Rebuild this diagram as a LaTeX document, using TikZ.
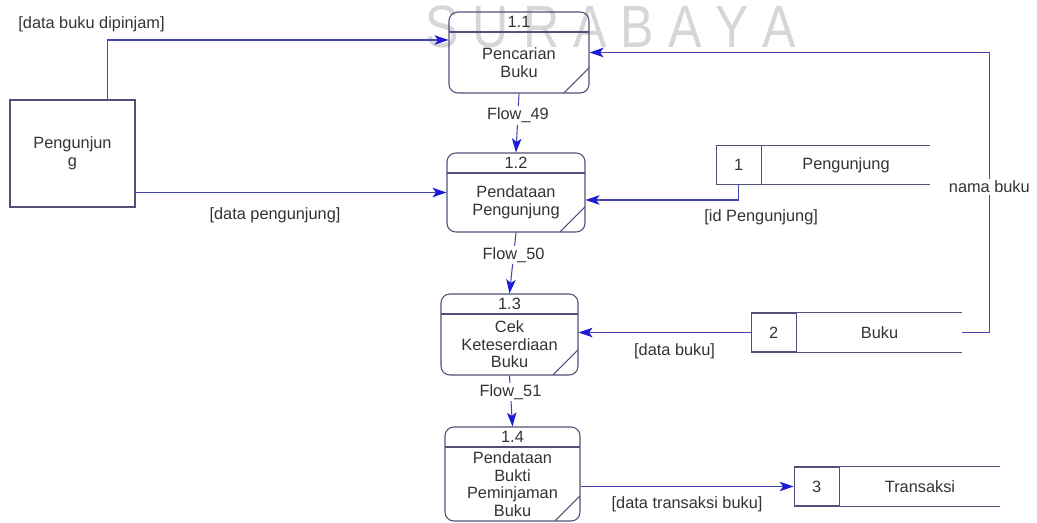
\documentclass[tikz,border=0pt]{standalone}
\usepackage{fontspec}
\setmainfont{Liberation Sans}
\usepackage{xcolor}
\usepackage{tikz}
\usetikzlibrary{positioning,arrows.meta,calc}

\definecolor{boxc}{HTML}{50507A}
\definecolor{linec}{HTML}{4646B0}
\definecolor{tipc}{HTML}{1C1CD8}
\definecolor{txtc}{HTML}{333333}

\begin{document}
\begin{tikzpicture}[x=0.02cm, y=-0.02cm, font=\fontsize{9.3}{10}\selectfont,
  >={Stealth[length=2.8mm,width=1.9mm,inset=0.7mm,color=tipc]},
  box/.style={draw=boxc, line width=0.6pt},
  conn/.style={draw=linec, line width=0.6pt, ->},
  ent/.style={box, minimum width=2.5cm, minimum height=2.14cm, align=center, text=txtc},
  proc/.style={box, rounded corners=5pt, path picture={
    \draw[box] ([yshift=-0.4cm]path picture bounding box.north west) -- ([yshift=-0.4cm]path picture bounding box.north east);
    \draw[box] ([xshift=-0.5cm]path picture bounding box.south east) -- ([yshift=0.5cm]path picture bounding box.south east);}},
  ptitle/.style={inner sep=1pt, text=txtc},
  ptext/.style={align=center, inner sep=1pt, text=txtc},
  sname/.style={minimum height=0.78cm, inner sep=0pt, text=txtc},
  snum/.style={box, minimum width=0.9cm, minimum height=0.78cm, inner sep=0pt, text=txtc},
  lbl/.style={fill=white, inner sep=1pt, text=txtc},
  wm/.style={font=\fontsize{34}{34}\selectfont, text=black!16, anchor=base, xscale=0.84, transform shape}]
\useasboundingbox (0,0) rectangle (1037,523);
% watermark behind everything
\node[wm] (wm) at (611,48) {S U R A B A Y A};
% external entity
\node[ent] (ent) at (72.5,153.5) {Pengunjun\\g};
% processes 1.1 -- 1.4
\foreach \i/\x/\y/\w/\h/\num/\txt in {
  1/519/52.5/2.8/1.62/1.1/{Pencarian\\Buku},
  2/516/192.5/2.76/1.58/1.2/{Pendataan\\Pengunjung},
  3/509.5/334.5/2.74/1.62/1.3/{Cek\\Keteserdiaan\\Buku},
  4/512.5/474/2.7/1.88/1.4/{Pendataan\\Bukti\\Peminjaman\\Buku}}{
  \node[proc, minimum width=\w cm, minimum height=\h cm] (p\i) at (\x,\y) {};
  \node[ptitle] (pn\i) at ([yshift=-0.2cm]p\i.north) {\num};
  \node[ptext] (pt\i) at ([yshift=-0.2cm]p\i.center) {\txt};
}
% data stores, open on the right
\foreach \i/\x/\y/\w/\num/\txt in {
  1/846/165/3.36/1/Pengunjung,
  2/879.5/332.5/3.3/2/Buku,
  3/920/486.5/3.2/3/Transaksi}{
  \node[sname, minimum width=\w cm] (s\i) at (\x,\y) {\txt};
  \node[snum, left=0pt of s\i] (sn\i) {\num};
  \draw[box] (s\i.north west) -- (s\i.north east) (s\i.south west) -- (s\i.south east);
}
% flows
\draw[conn] ([xshift=0.7cm]ent.north) |- ([yshift=0.25cm]p1.west)
  node[pos=0.5, above=1pt, xshift=-0.32cm, text=txtc] (l1) {[data buku dipinjam]};
\draw[conn] (ent.east |- p2.west) -- (p2.west)
  node[midway, below=5pt, xshift=-0.32cm, text=txtc] (l2) {[data pengunjung]};
\draw[conn] (p1.south) -- (p2.north) node[lbl, pos=0.37] (l3) {Flow\_49};
\draw[conn] (p2.south) -- (p3.north) node[lbl, pos=0.37] (l4) {Flow\_50};
\draw[conn] (p3.south) -- (p4.north) node[lbl, pos=0.32] (l5) {Flow\_51};
\draw[conn] (sn1.south) |- ([yshift=-0.15cm]p2.east)
  node[pos=0.5, below=2pt, xshift=0.45cm, text=txtc] (l6) {[id Pengunjung]};
\draw[conn] (sn2.west) -- (sn2.west -| p3.east)
  node[midway, below=3pt, xshift=0.2cm, text=txtc] (l7) {[data buku]};
\draw[conn] (s2.east) -- ++(27,0) |- node[lbl, pos=0.26] (l8) {nama buku} (p1.east);
\draw[conn] (p4.east |- sn3.west) -- (sn3.west)
  node[midway, below=2pt, text=txtc] (l9) {[data transaksi buku]};
\end{tikzpicture}
\end{document}
